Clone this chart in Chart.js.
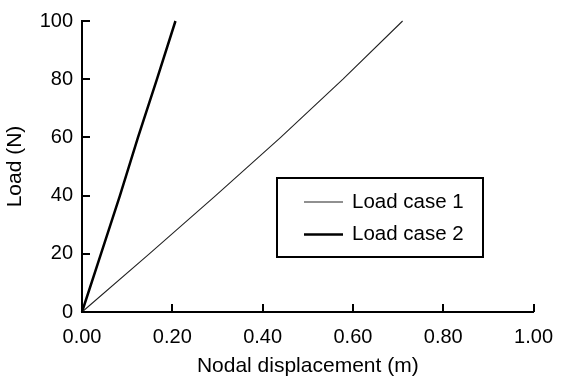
<!DOCTYPE html>
<html>
<head>
<meta charset="utf-8">
<script src="https://cdn.jsdelivr.net/npm/chart.js@4/dist/chart.umd.min.js"></script>
<style>
html,body{margin:0;padding:0;background:#fff;}
#wrap{width:566px;height:378px;}
</style>
</head>
<body>
<div id="wrap"><canvas id="c" width="566" height="378"></canvas></div>
<script>
const loads = [0, 20, 40, 60, 80, 100];
const loadCase1Disp = [0, 0.149, 0.296, 0.440, 0.578, 0.710];
const loadCase2Disp = [0, 0.042, 0.084, 0.124, 0.166, 0.207];
const seriesLabels = ['Load case 1', 'Load case 2'];
const xTitle = 'Nodal displacement (m)';
const yTitle = 'Load (N)';

const FONT = '"Liberation Sans", Arial, Helvetica, sans-serif';

function pts(xs, ys) { return xs.map((x, i) => ({x: x, y: ys[i]})); }

const insideTicks = {
  id: 'insideTicks',
  afterDraw(chart) {
    const ctx = chart.ctx, a = chart.chartArea;
    const xs = chart.scales.x, ys = chart.scales.y;
    ctx.save();
    ctx.strokeStyle = '#000';
    ctx.lineWidth = 2;
    ctx.beginPath();
    xs.ticks.forEach(t => {
      const p = Math.round(xs.getPixelForValue(t.value));
      ctx.moveTo(p, a.bottom);
      ctx.lineTo(p, a.bottom - 8);
    });
    ys.ticks.forEach(t => {
      const p = Math.round(ys.getPixelForValue(t.value));
      ctx.moveTo(a.left, p);
      ctx.lineTo(a.left + 8, p);
    });
    ctx.stroke();
    ctx.restore();
  }
};

const boxLegend = {
  id: 'boxLegend',
  afterDraw(chart) {
    const ctx = chart.ctx;
    const bx = 277, by = 178, bw = 206, bh = 79;
    ctx.save();
    ctx.strokeStyle = '#000';
    ctx.lineWidth = 2;
    ctx.strokeRect(bx, by, bw, bh);
    ctx.font = '20.5px ' + FONT;
    ctx.fillStyle = '#000';
    ctx.textBaseline = 'alphabetic';
    const rowsLine = [202, 234.5];
    const rowsText = [208, 240];
    chart.data.datasets.forEach((ds, i) => {
      ctx.beginPath();
      ctx.strokeStyle = ds.borderColor;
      ctx.lineWidth = ds.borderWidth;
      ctx.moveTo(304, rowsLine[i]);
      ctx.lineTo(343, rowsLine[i]);
      ctx.stroke();
      ctx.fillText(ds.label, 352, rowsText[i]);
    });
    ctx.restore();
  }
};

new Chart(document.getElementById('c'), {
  type: 'scatter',
  data: {
    datasets: [
      {label: seriesLabels[0], data: pts(loadCase1Disp, loads), showLine: true, borderColor: '#222', borderWidth: 1.1, pointRadius: 0, tension: 0, clip: 6},
      {label: seriesLabels[1], data: pts(loadCase2Disp, loads), showLine: true, borderColor: '#000', borderWidth: 2.5, pointRadius: 0, tension: 0, clip: 6}
    ]
  },
  options: {
    responsive: false,
    animation: false,
    devicePixelRatio: 1,
    layout: {padding: {left: 0, top: 20, right: 20, bottom: 0}},
    plugins: {legend: {display: false}, tooltip: {enabled: false}},
    scales: {
      x: {
        type: 'linear', min: 0, max: 1,
        grid: {display: false, drawTicks: false},
        border: {display: true, color: '#000', width: 2},
        ticks: {stepSize: 0.2, padding: 13, color: '#000', font: {family: FONT, size: 20},
          callback: v => v.toFixed(2)},
        title: {display: true, text: xTitle, color: '#000', font: {family: FONT, size: 21, lineHeight: 1.1}, padding: {top: 0, bottom: 0}},
        afterFit: s => { s.height = 66; }
      },
      y: {
        type: 'linear', min: 0, max: 100,
        grid: {display: false, drawTicks: false},
        border: {display: true, color: '#000', width: 2},
        ticks: {stepSize: 20, padding: 9, color: '#000', font: {family: FONT, size: 20}},
        title: {display: true, text: yTitle, color: '#000', font: {family: FONT, size: 21}, padding: {top: 3, bottom: 0}},
        afterFit: s => { s.width = 82; }
      }
    }
  },
  plugins: [insideTicks, boxLegend]
});
</script>
</body>
</html>
